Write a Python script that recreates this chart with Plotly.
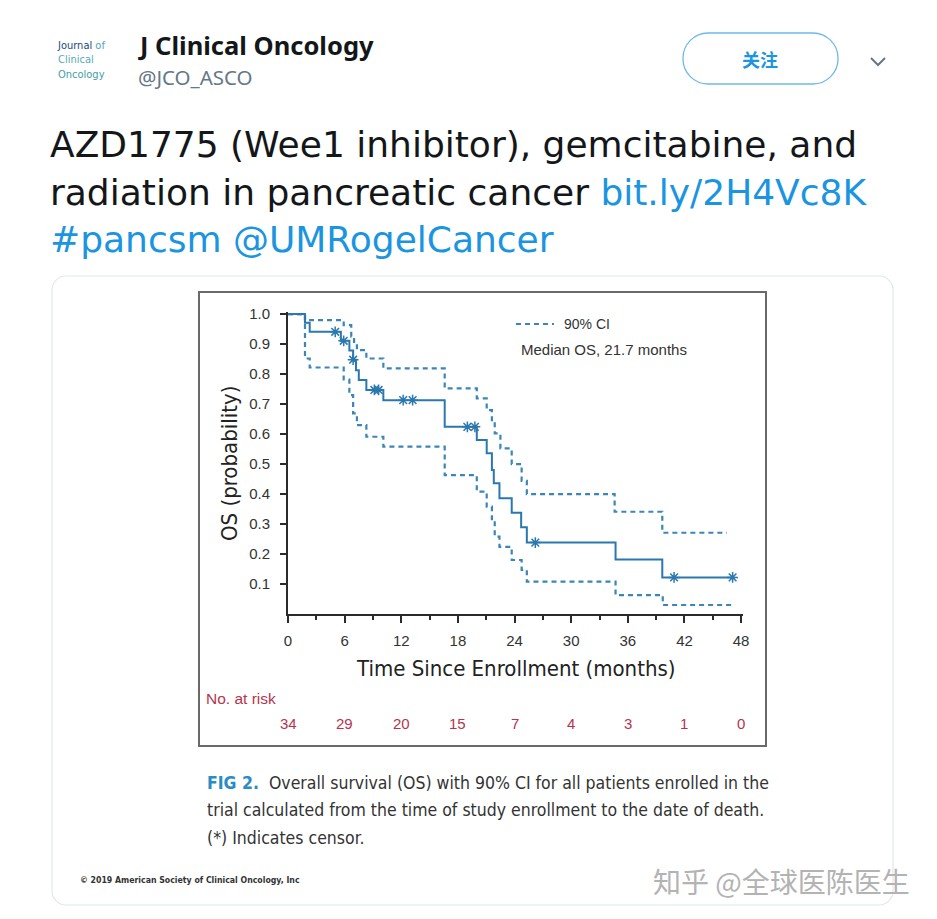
import bisect
import plotly.graph_objects as go

# ---------------- data ----------------
os_times = [0, 1.8, 2.3, 5.6, 6.5, 6.9, 7.2, 7.5, 8.3, 10.1, 16.6, 20.0, 21.05,
            21.6, 21.8, 22.4, 23.7, 24.7, 25.3, 34.7, 39.65]
os_values = [1.0, 0.971, 0.941, 0.911, 0.879, 0.848, 0.813, 0.78, 0.747, 0.713,
             0.624, 0.58, 0.536, 0.48, 0.436, 0.386, 0.338, 0.289, 0.238, 0.182, 0.122]
os_end = 47.1

upper_times = [0, 1.8, 5.9, 6.7, 7.0, 7.3, 8.3, 10.1, 16.6, 20.0, 21.05, 21.6,
               21.9, 22.5, 23.7, 24.75, 25.3, 34.6, 39.65]
upper_values = [1.0, 0.98, 0.963, 0.925, 0.90, 0.88, 0.852, 0.819, 0.752, 0.719,
                0.68, 0.64, 0.602, 0.552, 0.50, 0.444, 0.40, 0.341, 0.271]
upper_end = 46.5

lower_times = [0, 1.8, 2.3, 5.9, 6.5, 6.9, 7.3, 8.3, 10.1, 16.6, 20.0, 21.05,
               21.6, 21.9, 22.4, 23.7, 24.75, 25.3, 34.7, 39.7]
lower_values = [1.0, 0.852, 0.822, 0.782, 0.73, 0.669, 0.63, 0.591, 0.558, 0.463,
                0.408, 0.358, 0.311, 0.258, 0.224, 0.18, 0.147, 0.108, 0.063, 0.03]
lower_end = 47.1

censor_times = [5.0, 5.9, 6.9, 9.15, 9.6, 12.2, 13.2, 19.0, 19.8, 26.2, 40.9, 47.1]

risk_times = [0, 6, 12, 18, 24, 30, 36, 42, 48]
risk_counts = [34, 29, 20, 15, 7, 4, 3, 1, 0]

y_ticks = [0.1, 0.2, 0.3, 0.4, 0.5, 0.6, 0.7, 0.8, 0.9, 1.0]
x_ticks = [0, 6, 12, 18, 24, 30, 36, 42, 48]

# ---------------- layout geometry (pixels) ----------------
W, H = 937, 919
L, R, T, B = 288, 743, 312, 614


def px(x):
    return (x - L) / (R - L)


def py(y):
    return (B - y) / (B - T)


def step_value(t, times, values):
    i = bisect.bisect_right(times, t) - 1
    return values[max(i, 0)]


def rounded_rect(x0, y0, x1, y1, r):
    k = 0.45
    pts = [
        f"M {px(x0 + r)},{py(y0)}",
        f"L {px(x1 - r)},{py(y0)}",
        f"C {px(x1 - r * k)},{py(y0)} {px(x1)},{py(y0 + r * k)} {px(x1)},{py(y0 + r)}",
        f"L {px(x1)},{py(y1 - r)}",
        f"C {px(x1)},{py(y1 - r * k)} {px(x1 - r * k)},{py(y1)} {px(x1 - r)},{py(y1)}",
        f"L {px(x0 + r)},{py(y1)}",
        f"C {px(x0 + r * k)},{py(y1)} {px(x0)},{py(y1 - r * k)} {px(x0)},{py(y1 - r)}",
        f"L {px(x0)},{py(y0 + r)}",
        f"C {px(x0)},{py(y0 + r * k)} {px(x0 + r * k)},{py(y0)} {px(x0 + r)},{py(y0)}",
        "Z",
    ]
    return " ".join(pts)


BLUE = "#2a78ad"
CI_BLUE = "#3a86b6"
AX = "#2b2b2b"
RISK = "#b5344f"
TW_BLUE = "#1b95e0"
CHART_FONT = "Liberation Sans, Arial, sans-serif"
NARROW = "Liberation Sans Narrow, DejaVu Sans Condensed, sans-serif"
TW_FONT = "Noto Sans, Open Sans, sans-serif"

fig = go.Figure()

fig.add_trace(go.Scatter(
    x=upper_times + [upper_end], y=upper_values + [upper_values[-1]],
    mode="lines", line=dict(color=CI_BLUE, width=2.2, dash="5px,4px", shape="hv"),
    showlegend=False, hoverinfo="skip"))
fig.add_trace(go.Scatter(
    x=lower_times + [lower_end], y=lower_values + [lower_values[-1]],
    mode="lines", line=dict(color=CI_BLUE, width=2.2, dash="5px,4px", shape="hv"),
    showlegend=False, hoverinfo="skip"))
fig.add_trace(go.Scatter(
    x=os_times + [os_end], y=os_values + [os_values[-1]],
    mode="lines", line=dict(color=BLUE, width=2, shape="hv"),
    showlegend=False))
fig.add_trace(go.Scatter(
    x=censor_times, y=[step_value(t, os_times, os_values) for t in censor_times],
    mode="markers",
    marker=dict(symbol="asterisk-open", size=9, color=BLUE, line=dict(color=BLUE, width=1.5)),
    showlegend=False))

fig.update_layout(
    width=W, height=H, autosize=False,
    margin=dict(l=L, r=W - R, t=T, b=H - B, pad=0),
    paper_bgcolor="white", plot_bgcolor="white",
    showlegend=False,
    xaxis=dict(
        range=[0, 48.2], tickvals=x_ticks, ticktext=[str(v) for v in x_ticks],
        showline=True, linecolor=AX, linewidth=2, showgrid=False, zeroline=False,
        ticks="outside", ticklen=7, tickwidth=1.5, tickcolor=AX,
        tickfont=dict(family=CHART_FONT, size=15, color="#333333"),
        ticklabelstandoff=5,
        minor=dict(dtick=3, tick0=0, ticks="outside", ticklen=4, tickwidth=1.5, tickcolor=AX),
    ),
    yaxis=dict(
        range=[0, 1.007], tickvals=y_ticks, ticktext=[f"{v:.1f}" for v in y_ticks],
        showline=True, linecolor=AX, linewidth=2, showgrid=False, zeroline=False,
        ticks="outside", ticklen=6, tickwidth=1.5, tickcolor=AX,
        tickfont=dict(family=CHART_FONT, size=15, color="#333333"),
        ticklabelstandoff=7,
    ),
)

shapes = []
# tweet card
shapes.append(dict(type="path", xref="paper", yref="paper",
                   path=rounded_rect(52, 276, 893, 905, 14),
                   line=dict(color="#e1e8ed", width=1.2), fillcolor="rgba(0,0,0,0)"))
# figure frame
shapes.append(dict(type="rect", xref="paper", yref="paper",
                   x0=px(199), x1=px(766), y0=py(292), y1=py(746),
                   line=dict(color="#6a6a6a", width=2), fillcolor="rgba(0,0,0,0)"))
# follow button
shapes.append(dict(type="path", xref="paper", yref="paper",
                   path=rounded_rect(683, 33, 838, 84, 25),
                   line=dict(color="#6fb8ea", width=1.3), fillcolor="rgba(0,0,0,0)"))
# chevron
shapes.append(dict(type="path", xref="paper", yref="paper",
                   path=f"M {px(871)},{py(58)} L {px(878)},{py(65)} L {px(885)},{py(58)}",
                   line=dict(color="#657786", width=2)))
# legend dash sample
shapes.append(dict(type="line", xref="paper", yref="paper",
                   x0=px(516), x1=px(554), y0=py(324), y1=py(324),
                   line=dict(color=CI_BLUE, width=2.2, dash="5px,4px")))
fig.update_layout(shapes=shapes)

ann = []


def text(x, y, s, size, color="#14171a", family=TW_FONT, xanchor="left", yanchor="middle", **kw):
    ann.append(dict(x=px(x), y=py(y), xref="paper", yref="paper", text=s, showarrow=False,
                    xanchor=xanchor, yanchor=yanchor,
                    font=dict(size=size, color=color, family=family), **kw))


# logo (single block of three lines)
text(55, 60,
     "<span style='color:#22497d'>Journal</span> <span style='color:#4ea7b4'>of</span><br>"
     "<span style='color:#56abb6'>Clinical</span><br>"
     "<span style='color:#3f9ea9'>Oncology</span>",
     11, family=NARROW, align="left")
# account
text(136, 45, "<b>J Clinical Oncology</b>", 25.5)
text(136, 77, "@JCO_ASCO", 20.5, color="#657786")
text(760, 59, "<b>关注</b>", 18, color=TW_BLUE, family="Noto Sans CJK SC", xanchor="center")
# tweet text
TWEET = "DejaVu Sans, Noto Sans, sans-serif"
TS = 36
text(48, 145, "AZD1775 (Wee1 inhibitor), gemcitabine, and", TS, family=TWEET)
text(48, 192, f"radiation in pancreatic cancer <span style='color:{TW_BLUE}'>bit.ly/2H4Vc8K</span>",
     TS, family=TWEET)
text(48, 240, f"<span style='color:{TW_BLUE}'>#pancsm @UMRogelCancer</span>", TS, family=TWEET)
# chart legend / notes
text(562, 324, "90% CI", 14, color="#333333", family=CHART_FONT)
text(519, 349, "Median OS, 21.7 months", 15, color="#333333", family=CHART_FONT)
# axis titles
text(229, 464, "OS (probability)", 22, color="#222222", family=NARROW, xanchor="center",
     textangle=-90)
text(515, 668, "Time Since Enrollment (months)", 22, color="#222222", family=NARROW,
     xanchor="center")
# at-risk table
text(204, 698, "No. at risk", 15.5, color=RISK, family=CHART_FONT)
for t, n in zip(risk_times, risk_counts):
    ann.append(dict(x=t, y=py(723), xref="x", yref="paper", text=str(n), showarrow=False,
                    xanchor="center", yanchor="middle",
                    font=dict(size=15, color=RISK, family=CHART_FONT)))
# caption
text(205, 783, "<b><span style='color:#2a8cc4'>FIG 2.</span></b>  Overall survival (OS) with 90% CI for all patients enrolled in the",
     17.5, color="#333333", family=NARROW)
text(205, 810, "trial calculated from the time of study enrollment to the date of death.",
     17.5, color="#333333", family=NARROW)
text(205, 838, "(*) Indicates censor.", 17.5, color="#333333", family=NARROW)
text(78, 880, "<b>© 2019 American Society of Clinical Oncology, Inc</b>", 8.7, color="#333333",
     family=NARROW)
# watermark
text(651, 881, "知乎 @全球医陈医生", 28, color="#b3b3b3", family="Noto Sans CJK SC")

fig.update_layout(annotations=ann)

fig.write_html("out.html")
